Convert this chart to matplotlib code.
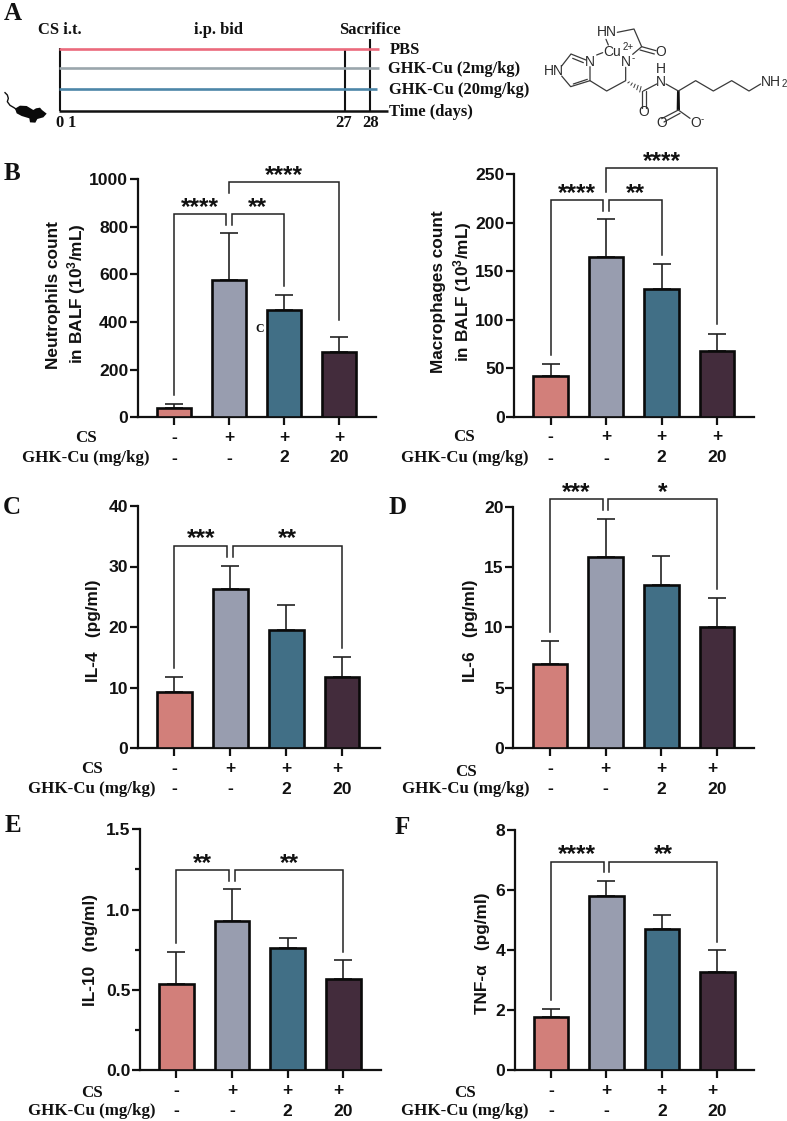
import matplotlib
matplotlib.use("Agg")
import matplotlib.pyplot as plt
from matplotlib.patches import Polygon

W, H = 787, 1121
SANS = "Liberation Sans"
SERIF = "Liberation Serif"
plt.rcParams["font.family"] = [SANS, "DejaVu Sans"]
plt.rcParams["mathtext.fontset"] = "custom"
plt.rcParams["mathtext.bf"] = "Liberation Sans:bold"
plt.rcParams["mathtext.rm"] = "Liberation Sans:bold"
plt.rcParams["mathtext.default"] = "bf"

# ---------------- data ----------------
neut_means = [40, 578, 452, 272]
neut_tops = [57, 772, 513, 337]
macro_means = [42, 165, 132, 68]
macro_tops = [54, 203.6, 157, 85.6]
il4_means = [9.3, 26.3, 19.5, 11.7]
il4_tops = [11.7, 30.1, 23.7, 15.0]
il6_means = [7.0, 15.85, 13.5, 10.0]
il6_tops = [8.9, 19.0, 15.95, 12.45]
il10_means = [0.538, 0.931, 0.759, 0.565]
il10_tops = [0.738, 1.125, 0.821, 0.684]
tnf_means = [1.79, 5.8, 4.72, 3.26]
tnf_tops = [2.03, 6.29, 5.18, 4.0]

cs_row = ["-", "+", "+", "+"]
ghk_row = ["-", "-", "2", "20"]
bar_colors = ["#D27F7A", "#989DAF", "#416F86", "#432C3C"]
LINE = "#111111"

fig = plt.figure(figsize=(W / 100, H / 100), dpi=100, facecolor="white")
ov = fig.add_axes([0, 0, 1, 1], zorder=10)
ov.set_xlim(0, W)
ov.set_ylim(H, 0)
ov.axis("off")
ov.patch.set_alpha(0)


def T(x, y, s, **kw):
    kw.setdefault("ha", "center")
    kw.setdefault("va", "center")
    kw.setdefault("color", "#111111")
    return ov.text(x, y, s, **kw)


def serif(x, y, s, size=12.2, **kw):
    return T(x, y, s, family=[SERIF, "DejaVu Serif"], fontweight="bold", fontsize=size, **kw)


def panel(box, ticks, ymax, yticks, ylabels, means, tops, brackets, rows, labels,
          minor=None, shift3=0.0):
    left, right, base, top = box
    t0, t3 = ticks
    step = (t3 - t0) / 3
    ax = fig.add_axes([left / W, 1 - base / H, (right - left) / W, (base - top) / H])
    ax.patch.set_alpha(0)
    ax.set_xlim((left - t0) / step, (right - t0) / step)
    ax.set_ylim(0, ymax)
    pos = list(range(4))
    ax.bar(pos, means, width=0.625, color=bar_colors, edgecolor="#0a0a0a",
           linewidth=1.9, zorder=3)
    for i in pos:
        ax.errorbar(i, means[i], yerr=[[0], [tops[i] - means[i]]], color="#222222",
                    elinewidth=1.2, capsize=6.4, capthick=1.2, zorder=2, clip_on=False)
    for s in ["top", "right"]:
        ax.spines[s].set_visible(False)
    for s in ["left", "bottom"]:
        ax.spines[s].set_linewidth(1.6)
        ax.spines[s].set_color(LINE)
    ax.set_xticks(pos)
    ax.set_xticklabels([])
    ax.set_yticks(yticks)
    ax.set_yticklabels(ylabels, fontsize=12.6, fontweight="bold", color="#111111")
    ax.tick_params(axis="both", which="major", length=5.8, width=1.6, color=LINE, pad=1)
    if minor:
        ax.set_yticks(minor, minor=True)
        ax.tick_params(axis="y", which="minor", length=3.3, width=1.6, color=LINE)
    for (xa, xb, ya, yb, yc, lab) in brackets:
        ax.plot([xa, xa, xb, xb], [ya, yb, yb, yc], color="#222222", lw=1.1,
                clip_on=False, zorder=4, solid_joinstyle="miter")
        ax.annotate(lab, ((xa + xb) / 2, yb), xytext=(0, 0.3), textcoords="offset points",
                    ha="center", va="baseline", fontsize=17.5, fontweight="bold",
                    color="#111111", annotation_clip=False)
    # rows under the axis
    cx, cs_y, ghk_cx, ghk_y, cs_mark_y = rows
    serif(cx, cs_y, "CS")
    serif(ghk_cx, ghk_y, "GHK-Cu (mg/kg)")
    for i in pos:
        xoff = shift3 * step if i == 3 else 0
        T(t0 + step * i + xoff, cs_mark_y, cs_row[i], fontsize=12.6, fontweight="bold")
        T(t0 + step * i, ghk_y, ghk_row[i], fontsize=12.6, fontweight="bold")
    for (x, y, s) in labels:
        T(x, y, s, rotation=90, fontsize=12.4, fontweight="bold")
    return ax


g = 0.05
panel((137.7, 376, 417.3, 179), (174, 339), 1000, [0, 200, 400, 600, 800, 1000],
      ["0", "200", "400", "600", "800", "1000"], neut_means, neut_tops,
      [(0, 1 - g, 94, 852, 807, "****"), (1 + g, 2, 807, 852, 551, "**"),
       (1, 3, 940, 986, 408, "****")],
      (86, 437.7, 86, 458, 437.2),
      [(53.5, 295, "Neutrophils count"), (76.5, 294, "in BALF (10$^{3}$/mL)")])

panel((514, 754.3, 416.7, 174.3), (550.7, 717), 250, [0, 50, 100, 150, 200, 250],
      ["0", "50", "100", "150", "200", "250"], macro_means, macro_tops,
      [(0, 1 - g, 63.6, 223, 212, "****"), (1 + g, 2, 212, 223, 167, "**"),
       (1, 3, 232, 256, 95.6, "****")],
      (464, 437, 465, 458, 437),
      [(438.5, 292, "Macrophages count"), (463, 291.5, "in BALF (10$^{3}$/mL)")])

panel((137.7, 380, 748, 506), (174.3, 342), 40, [0, 10, 20, 30, 40],
      ["0", "10", "20", "30", "40"], il4_means, il4_tops,
      [(0, 1 - g, 13.2, 33.4, 31.6, "***"), (1 + g, 3, 31.6, 33.4, 16.5, "**")],
      (92, 769, 91.7, 789, 768.7),
      [(93.5, 631, "IL-4   (pg/ml)")], shift3=-0.09)

panel((513.3, 754.3, 748, 506.7), (550, 717), 20, [0, 5, 10, 15, 20],
      ["0", "5", "10", "15", "20"], il6_means, il6_tops,
      [(0, 1 - g, 9.65, 20.6, 19.7, "***"), (1 + g, 3, 19.7, 20.6, 13.2, "*")],
      (465.7, 771.7, 466, 789, 768.7),
      [(470, 631, "IL-6   (pg/ml)")], shift3=-0.09)

panel((139.7, 381, 1070, 829.3), (176.3, 343.3), 1.5, [0, 0.5, 1.0, 1.5],
      ["0.0", "0.5", "1.0", "1.5"], il10_means, il10_tops,
      [(0, 1 - g, 0.794, 1.245, 1.18, "**"), (1 + g, 3, 1.18, 1.245, 0.738, "**")],
      (92, 1092.7, 92, 1111, 1090),
      [(90.5, 950, "IL-10   (ng/ml)")], minor=[0.25, 0.75, 1.25], shift3=-0.09)

panel((514.7, 754.3, 1070.3, 830), (551, 717.3), 8, [0, 2, 4, 6, 8],
      ["0", "2", "4", "6", "8"], tnf_means, tnf_tops,
      [(0, 1 - g, 2.34, 6.94, 6.59, "****"), (1 + g, 3, 6.59, 6.94, 4.28, "**")],
      (465, 1092.7, 465, 1111, 1090),
      [(482, 953, "TNF-α   (pg/ml)")], shift3=-0.09)

# ---------------- panel letters ----------------
for x, y, s in [(13, 13, "A"), (12, 174, "B"), (12, 507, "C"), (398, 507, "D"),
                (13, 825, "E"), (402, 827, "F")]:
    serif(x, y, s, size=18)
serif(260, 329, "C", size=8.5)

# ---------------- panel A: timeline ----------------
for x, y0 in [(59.5, 48), (344.5, 49), (370, 39)]:
    ov.plot([x, x], [y0, 111], color="#111111", lw=1.5, solid_capstyle="butt")
ov.plot([59, 388], [111, 111], color="#111111", lw=1.8, solid_capstyle="butt")
ov.plot([59, 379], [48.7, 48.7], color="#EB6A7C", lw=1.9, solid_capstyle="butt")
ov.plot([59, 379], [68.3, 68.3], color="#9AA6AC", lw=1.9, solid_capstyle="butt")
ov.plot([59, 377], [89.3, 89.3], color="#4C86A8", lw=1.9, solid_capstyle="butt")
serif(390, 50.5, "PBS", ha="left", size=11.9)
serif(388.5, 69, "GHK-Cu (2mg/kg)", ha="left", size=11.9)
serif(389, 90.5, "GHK-Cu (20mg/kg)", ha="left", size=11.9)
serif(389, 112.5, "Time (days)", ha="left", size=11.9)
serif(60, 30, "CS i.t.", size=11.9)
serif(219, 30, "i.p. bid", size=11.9)
serif(370, 30, "Sacrifice", size=11.9)
for x, s in [(59, "0"), (72, "1"), (344, "27"), (371, "28")]:
    serif(x, 123, s, size=11.9)

# mouse silhouette
tail = [(15, 38), (22, 45), (25, 55), (22, 65), (30, 76), (42, 83), (52, 90)]
ov.plot([x / 3 for x, _ in tail], [80 + y / 3 for _, y in tail], color="#111111", lw=1.0)
body = [(45, 86), (60, 77), (80, 78), (100, 90), (108, 85), (120, 83), (126, 90), (140, 101),
        (130, 112), (112, 117), (106, 128), (90, 127), (88, 115), (65, 108), (50, 100)]
ov.add_patch(Polygon([(x / 3, 80 + y / 3) for x, y in body], closed=True, color="#0a0a0a", lw=0))


# ---------------- panel A: structure ----------------
def cx(x):
    return 530 + x / 3


def cy(y):
    return 10 + y / 3


CH = "#3a3a3a"
bonds = [
    [(262, 67), (312, 57), (335, 110), (308, 133)],
    [(228, 88), (235, 105)],
    [(200, 135), (218, 128)],
    [(168, 150), (123, 132), (95, 168)],
    [(160, 158), (128, 145)],
    [(95, 198), (122, 230), (180, 212), (180, 170)],
    [(130, 222), (172, 208)],
    [(180, 212), (230, 243), (287, 212), (287, 172)],
    [(335, 110), (378, 122)],
    [(330, 120), (373, 132)],
    [(336, 243), (336, 295)],
    [(347, 243), (347, 295)],
    [(340, 243), (380, 222)],
    [(408, 222), (445, 243), (497, 212), (550, 243), (605, 212), (657, 243), (692, 222)],
    [(445, 300), (395, 326)],
    [(450, 310), (402, 336)],
    [(445, 300), (480, 325)],
]
for b in bonds:
    ov.plot([cx(x) for x, _ in b], [cy(y) for _, y in b], color=CH, lw=0.9, solid_capstyle="round")
ov.add_patch(Polygon([(cx(441), cy(243)), (cx(449), cy(243)), (cx(450), cy(300)), (cx(440), cy(300))],
                     closed=True, color="#111111", lw=0))
for k in range(5):
    f = (k + 1) / 6
    xm, ym = 287 + (340 - 287) * f, 212 + (243 - 212) * f
    ov.plot([cx(xm - 2), cx(xm + 2)], [cy(ym + 1.5 + 1.6 * k), cy(ym - 1.5 - 1.6 * k)], color=CH, lw=0.7)
for x, y, s, sz in [(232, 65, "HN", 10), (247, 125, "Cu", 10), (295, 112, "2+", 7),
                    (392, 125, "O", 10), (288, 155, "N", 10), (310, 144, "-", 7),
                    (180, 155, "N", 10), (73, 183, "HN", 10),
                    (340, 305, "O", 10), (395, 338, "O", 10),
                    (497, 338, "O", 10), (517, 326, "-", 7), (723, 215, "NH", 10),
                    (762, 223, "2", 7)]:
    T(cx(x), cy(y), s, fontsize=sz, color="#2c2c2c")
T(cx(393), cy(197), "H\nN", fontsize=10, color="#2c2c2c", linespacing=0.95)

fig.savefig("out.png", dpi=100)
